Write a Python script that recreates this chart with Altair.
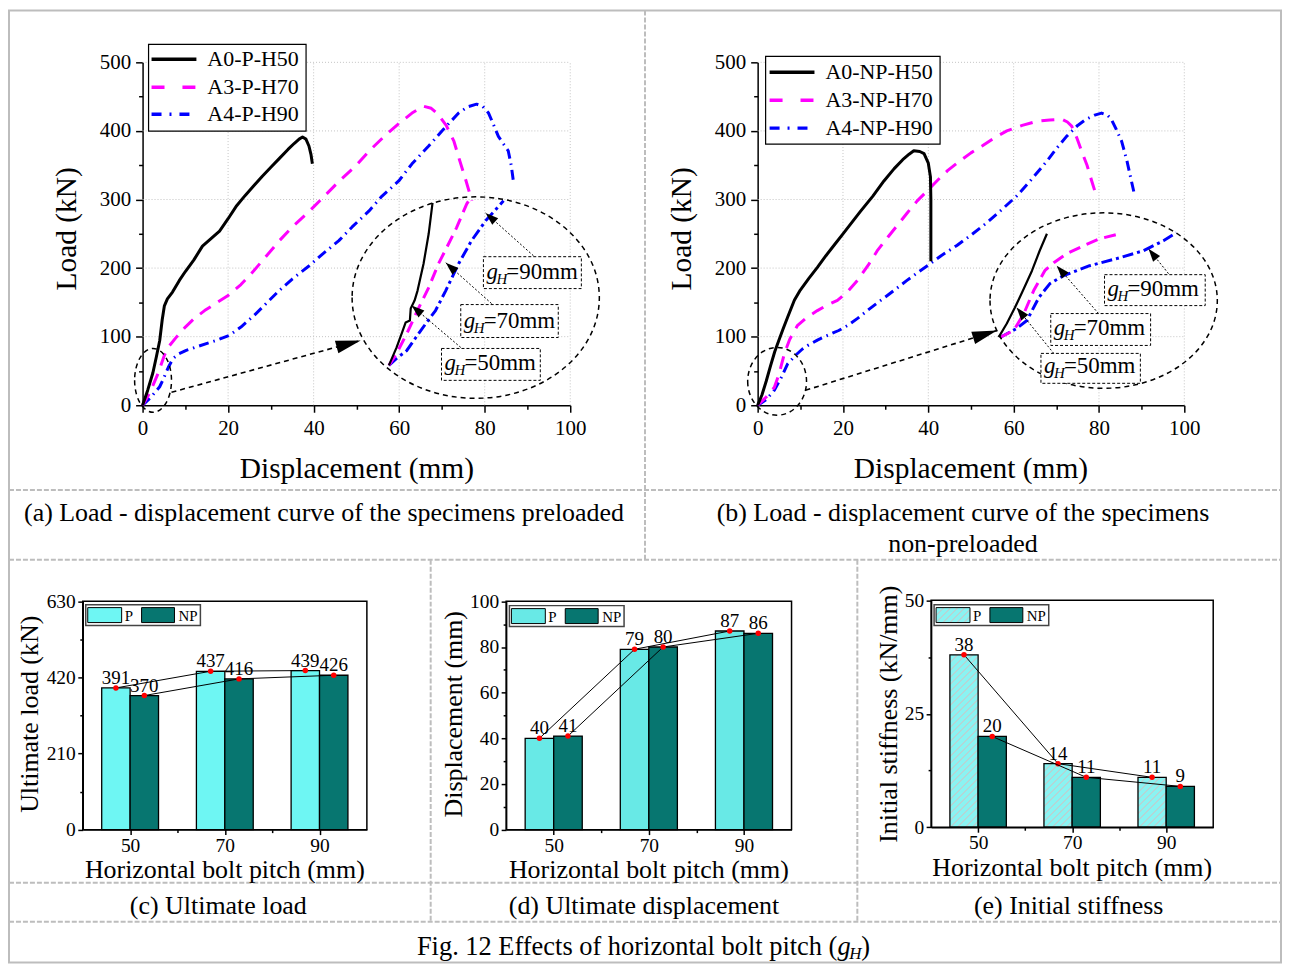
import math
import altair as alt
import pandas as pd

FONT = "Liberation Serif"
W, H = 1278, 957      # whole canvas (page minus the 8px body margin)
OFF = 8

# ------------------------------------------------------------------ data
# (a) preloaded specimens: displacement (mm) / load (kN)
a_h50_x = [0, 1.2, 2.4, 3.2, 4.0, 4.6, 5.1, 5.8, 7, 8.6, 10, 12, 14, 16, 18, 20, 22, 24, 26, 28, 30, 32, 34, 35.5, 36.6, 37.4, 38.2, 38.9, 39.4, 39.7]
a_h50_y = [0, 22, 47, 70, 94, 125, 145, 155, 165, 182, 195, 212, 232, 243, 254, 272, 291, 306, 320, 334, 347, 360, 373, 382, 388, 391, 388, 378, 365, 352]
a_h70_x = [0, 1.6, 3.6, 5.1, 6.3, 8, 10, 12, 14.5, 17, 20, 23, 26, 29, 32, 35, 39, 43, 46, 50, 53, 56.5, 60, 63, 65.7, 67.5, 69, 71, 72.8, 74, 75.5, 77]
a_h70_y = [0, 17, 46, 73, 87, 100, 114, 126, 138, 148, 160, 176, 196, 218, 240, 260, 283, 308, 327, 350, 371, 392, 411, 426, 436, 433, 425, 408, 385, 360, 330, 298]
a_h90_x = [0, 2, 4, 4.7, 6, 7.1, 8.5, 10.2, 13, 17, 20.3, 23, 26.1, 29, 31.9, 35, 38.9, 42, 45.9, 49, 52.9, 56, 59.9, 63, 66.9, 70, 73.9, 76, 78.1, 79.5, 80.9, 82, 83.2, 84.5, 85.5, 86.2, 86.7]
a_h90_y = [0, 12, 27, 36, 55, 68, 75, 80, 86, 94, 102, 114, 131, 149, 167, 184, 203, 220, 240, 260, 283, 305, 327, 352, 378, 400, 426, 435, 439, 436, 426, 410, 392, 380, 371, 350, 327]

# (b) non-preloaded specimens
b_h50_x = [0, 1, 2, 3, 4, 5, 6, 7, 8.6, 10, 12, 14, 16, 18, 20, 22, 24, 27, 29.6, 32, 34, 35.5, 36.6, 38, 39, 40, 40.5, 40.6, 40.6]
b_h50_y = [0, 15, 35, 57, 78, 95, 112, 128, 153, 168, 185, 201, 218, 234, 250, 266, 282, 305, 327, 345, 358, 366, 371, 370, 367, 353, 333, 300, 210]
b_h70_x = [0, 2, 3.9, 5, 6.3, 7.5, 9.3, 11.5, 14, 16, 18.7, 21, 23.4, 26, 28, 30.5, 32.7, 35, 37.4, 40, 42, 44.5, 46.7, 50, 52.6, 55.5, 58.4, 62, 65.4, 68.5, 71.3, 72.6, 73.6, 74.8, 75.9, 77.2, 78.3, 79.4]
b_h70_y = [0, 12, 26, 45, 76, 96, 116, 128, 138, 145, 153, 165, 182, 205, 225, 245, 262, 280, 298, 314, 327, 342, 353, 368, 378, 390, 400, 408, 414, 416, 417, 413, 407, 390, 371, 350, 327, 305]
b_h90_x = [0, 2, 3.9, 5.5, 7, 8.9, 10.5, 11.7, 14, 16.4, 19, 21, 23.5, 25.7, 28, 30.4, 32.7, 35, 37.4, 39.7, 43, 46.7, 50, 53.7, 57, 60.7, 64, 67.8, 70, 72.4, 75, 77, 79, 80.6, 82, 82.9, 84, 85.3, 86.5, 87.6, 88.4]
b_h90_y = [0, 8, 22, 40, 60, 73, 82, 87, 95, 102, 109, 116, 127, 138, 149, 160, 171, 182, 193, 203, 218, 233, 248, 266, 284, 305, 328, 356, 374, 392, 408, 417, 423, 426, 423, 417, 403, 385, 358, 327, 305]

# magnified insets, read in the main-axis units of each panel
a_in50_x = [57.6, 59.4, 60.6, 61.5, 62.5, 62.7, 63.6, 64.3, 65.7, 66.9, 67.8]
a_in50_y = [58.1, 84.3, 104.7, 120.6, 123.5, 141.0, 152.6, 167.2, 206.4, 250.0, 295.1]
a_in70_x = [57.6, 59.4, 61.8, 64.6, 66.9, 69.2, 71.1, 73.4, 75.8, 76.7]
a_in70_y = [58.1, 75.6, 104.7, 142.4, 171.5, 206.4, 229.7, 258.7, 293.6, 302.3]
a_in90_x = [57.6, 59.4, 61.8, 63.9, 66.4, 68.5, 70.9, 73.9, 76.9, 80.2, 84.4]
a_in90_y = [58.1, 68.3, 79.9, 98.8, 120.6, 138.1, 167.2, 206.4, 239.8, 268.9, 298.0]
b_in50_x = [56.5, 58.4, 60.3, 62.4, 64.3, 66.1, 67.8]
b_in50_y = [99.3, 119.2, 142.4, 170.1, 196.2, 225.3, 250.0]
b_in70_x = [56.8, 60.0, 62.4, 64.7, 67.3, 69.4, 72.4, 76.4, 80.1, 84.8]
b_in70_y = [98.8, 109.0, 133.7, 167.2, 196.2, 207.8, 220.9, 232.6, 242.7, 250.0]
b_in90_x = [56.8, 60.7, 63.1, 65.9, 68.5, 71.7, 77.8, 84.1, 90.4, 95.1, 98.1]
b_in90_y = [98.8, 111.9, 123.5, 157.0, 177.3, 189.0, 203.5, 213.7, 225.3, 239.8, 251.5]

# bar charts
pitch = [50, 70, 90]
ult_P = [391, 437, 439]
ult_NP = [370, 416, 426]
disp_P = [40, 79, 87]
disp_NP = [41, 80, 86]
stiff_P = [38, 14, 11]
stiff_NP = [20, 11, 9]

# annotation anchors (data units of their panel)
a_ell = [(77.9, 157.0), (2.45, 36.3)]
b_ell = [(81.1, 152.6), (4.56, 34.9)]
a_arrows = [(6.76, 18.9, 51.0, 94.5), (91.4, 218.0, 80.2, 280.5), (81.6, 148.3, 70.9, 207.8), (74.4, 84.3, 62.9, 145.3)]
b_arrows = [(11.2, 21.8, 56.1, 109.0), (96.3, 191.9, 91.6, 228.2), (79.9, 133.7, 70.1, 203.5), (69.4, 75.6, 60.7, 142.4)]
a_boxes = [(79.7, 102.6, 170.1, 216.6, "=90mm"), (74.4, 97.2, 98.8, 146.8, "=70mm"), (69.9, 93.0, 36.3, 82.8, "=50mm")]
b_boxes = [(81.3, 104.9, 145.3, 190.4, "=90mm"), (68.7, 92.1, 87.2, 133.7, "=70mm"), (66.4, 89.7, 32.0, 75.6, "=50mm")]

# ------------------------------------------------------------------ helpers
def c(v):
    return v - OFF

PAN = {
    'a': dict(xd=[0, 100], xr=[c(143), c(572)], yd=[0, 500], yr=[c(405), c(61)]),
    'b': dict(xd=[0, 100], xr=[c(760), c(1188)], yd=[0, 500], yr=[c(405), c(61)]),
    'c': dict(xd=[40, 100], xr=[c(83), c(368)], yd=[0, 630], yr=[c(830.7), c(601.7)]),
    'd': dict(xd=[40, 100], xr=[c(507.7), c(794)], yd=[0, 100], yr=[c(830.7), c(601.7)]),
    'e': dict(xd=[40, 100], xr=[c(934), c(1217)], yd=[0, 50], yr=[c(828.3), c(600.7)]),
}


def sx(p):
    return (p['xr'][1] - p['xr'][0]) / (p['xd'][1] - p['xd'][0])


def sy(p):
    return (p['yr'][1] - p['yr'][0]) / (p['yd'][1] - p['yd'][0])


def X(f, p, axis=None):
    return alt.X(f, type='quantitative', axis=axis,
                 scale=alt.Scale(domain=p['xd'], range=p['xr'], nice=False, zero=False))


def Y(f, p, axis=None):
    return alt.Y(f, type='quantitative', axis=axis,
                 scale=alt.Scale(domain=p['yd'], range=p['yr'], nice=False, zero=False))


ONE = pd.DataFrame({'k': [0]})
L = []


def vrule(x0, y0, x1, y1, color='black', sw=1.0, dash=None):
    kw = dict(color=color, strokeWidth=sw)
    if dash:
        kw['strokeDash'] = dash
    return alt.Chart(ONE).mark_rule(**kw).encode(
        x=alt.value(x0), y=alt.value(y0), x2=alt.value(x1), y2=alt.value(y1))


def vrect(x0, y0, x1, y1, fill='white', fop=1.0, stroke='black', sw=1.0):
    return alt.Chart(ONE).mark_rect(fill=fill, fillOpacity=fop, stroke=stroke, strokeWidth=sw).encode(
        x=alt.value(x0), y=alt.value(y0), x2=alt.value(x1), y2=alt.value(y1))


def txt(s, x, y, size, align='center', baseline='alphabetic', angle=0, italic=False):
    kw = dict(text=s, font=FONT, fontSize=size, align=align, baseline=baseline, color='black')
    if angle:
        kw['angle'] = angle
    if italic:
        kw['fontStyle'] = 'italic'
    return alt.Chart(ONE).mark_text(**kw).encode(x=alt.value(x), y=alt.value(y))


def dtxt(p, s, xv, yv, size, dx=0, dy=0, align='left', italic=False):
    df = pd.DataFrame({'x': [xv], 'y': [yv]})
    kw = dict(text=s, font=FONT, fontSize=size, align=align, baseline='alphabetic',
              dx=dx, dy=dy, color='black')
    if italic:
        kw['fontStyle'] = 'italic'
    return alt.Chart(df).mark_text(**kw).encode(x=X('x', p), y=Y('y', p))


def curve(p, xs, ys, color, width, dash=None):
    df = pd.DataFrame({'x': xs, 'y': ys, 'i': list(range(len(xs)))})
    kw = dict(color=color, strokeWidth=width, strokeJoin='round')
    if dash:
        kw['strokeDash'] = dash
    return alt.Chart(df).mark_line(**kw).encode(
        x=X('x', p), y=Y('y', p), order=alt.Order('i', type='quantitative'))


def ellipse(p, xv, yv, rx, ry):
    m = max(rx, ry)
    a, b = rx / m, ry / m
    path = f"M{-a:.3f},0A{a:.3f},{b:.3f} 0 1,0 {a:.3f},0A{a:.3f},{b:.3f} 0 1,0 {-a:.3f},0Z"
    df = pd.DataFrame({'x': [xv], 'y': [yv]})
    return alt.Chart(df).mark_point(shape=path, size=(2 * m) ** 2, filled=False, color='black',
                                    opacity=1, strokeWidth=1.5, strokeDash=[5, 4]).encode(
        x=X('x', p), y=Y('y', p))


def arrow(p, x1, y1, x2, y2, hlen, hwid, dash, sw):
    df = pd.DataFrame({'x1': [x1], 'y1': [y1], 'x2': [x2], 'y2': [y2]})
    ang = math.degrees(math.atan2((y2 - y1) * sy(p), (x2 - x1) * sx(p))) % 360
    r = hwid / 2 / hlen
    line = alt.Chart(df).mark_rule(color='black', strokeWidth=sw, strokeDash=dash).encode(
        x=X('x1', p), y=Y('y1', p), x2='x2', y2='y2')
    head = alt.Chart(df).mark_point(shape=f"M0,0L-1,{-r:.3f}L-1,{r:.3f}Z", size=(2 * hlen) ** 2,
                                    angle=ang, filled=True, color='black', opacity=1).encode(
        x=X('x2', p), y=Y('y2', p))
    return [line, head]


def axes(p, xmaj, ymaj, xmin, ymin, fs, tmaj, tmin, pad):
    df = pd.DataFrame({'x': [p['xd'][0]], 'y': [p['yd'][0]]})
    boff = p['yr'][0] - H
    loff = -p['xr'][0]
    com = dict(grid=False, title=None, labelFont=FONT, labelFontSize=fs, labelColor='black',
               tickColor='black', domainColor='black', tickWidth=1.5, domainWidth=1.5,
               labelFlush=False, labelOverlap=False, format='d', tickSize=tmaj)
    major = alt.Chart(df).mark_point(opacity=0).encode(
        x=X('x', p, alt.Axis(orient='bottom', offset=boff, values=xmaj, labelPadding=pad[0], **com)),
        y=Y('y', p, alt.Axis(orient='left', offset=loff, values=ymaj, labelPadding=pad[1], **com)))
    mcom = dict(grid=False, title=None, labels=False, domain=False, tickColor='black',
                tickWidth=1.5, tickSize=tmin)
    minor = alt.Chart(df).mark_point(opacity=0).encode(
        x=X('x', p, alt.Axis(orient='bottom', offset=boff, values=xmin, **mcom)),
        y=Y('y', p, alt.Axis(orient='left', offset=loff, values=ymin, **mcom)))
    return [major, minor]


def gridlines(p, xt, yt):
    dv = pd.DataFrame({'v': xt, 'lo': p['yd'][0], 'hi': p['yd'][1]})
    dh = pd.DataFrame({'v': yt, 'lo': p['xd'][0], 'hi': p['xd'][1]})
    g1 = alt.Chart(dv).mark_rule(color='#c4c4c4', strokeWidth=1, strokeDash=[1, 2]).encode(
        x=X('v', p), y=Y('lo', p), y2='hi')
    g2 = alt.Chart(dh).mark_rule(color='#c4c4c4', strokeWidth=1, strokeDash=[1, 2]).encode(
        y=Y('v', p), x=X('lo', p), x2='hi')
    return [g1, g2]


def hatch(wpx, hpx, bg='#8af3f2', fg='#b3d6d6', period=5.0, lw=1.4):
    k = (wpx + hpx) / (wpx ** 2 + hpx ** 2)
    n = max(1, int(round((wpx + hpx) / math.sqrt(2) / period)))
    stops = []
    for i in range(n):
        a0 = i / n
        a1 = (i + lw / period) / n
        a2 = (i + 1) / n
        stops += [{'offset': round(a0, 5), 'color': fg}, {'offset': round(a1, 5), 'color': fg},
                  {'offset': round(a1, 5), 'color': bg}, {'offset': round(a2, 5), 'color': bg}]
    return {'gradient': 'linear', 'x1': 0, 'y1': 0, 'x2': round(wpx * k, 5),
            'y2': round(hpx * k, 5), 'stops': stops}


# ------------------------------------------------------------------ table frame
TC = '#bdbdbd'
TD = [5, 2]
L.append(vrect(1, 1, 1277, 956, fill='white', fop=0, stroke=TC, sw=2))
L.append(vrule(c(647), 1, c(647), c(560), TC, 2, TD))
for yy in (490, 560, 884, 923):
    L.append(vrule(1, c(yy), 1277, c(yy), TC, 2, TD))
for xx in (432, 860):
    L.append(vrule(c(xx), c(560), c(xx), c(923), TC, 2, TD))

# ------------------------------------------------------------------ panels (a) and (b)
MAG = '#ff00ff'
BLU = '#0000ff'
DASH_M = [13, 9]
DASH_B = [10, 5, 1.5, 5]


def line_panel(key, series, insets, ells, arrows_, boxes, names, legbox, legx, legy):
    p = PAN[key]
    out = []
    out += gridlines(p, [20, 40, 60, 80, 100], [100, 200, 300, 400, 500])
    (x50, y50), (x70, y70), (x90, y90) = series
    out.append(curve(p, x90, y90, BLU, 3, DASH_B))
    out.append(curve(p, x70, y70, MAG, 3, DASH_M))
    out.append(curve(p, x50, y50, 'black', 3))
    (i50x, i50y), (i70x, i70y), (i90x, i90y) = insets
    out.append(curve(p, i90x, i90y, BLU, 3, [11, 4, 3, 4]))
    out.append(curve(p, i70x, i70y, MAG, 3, [12, 7]))
    out.append(curve(p, i50x, i50y, 'black', 2.2))
    out.append(ellipse(p, ells[0][0], ells[0][1], *ELL_R[key][0]))
    out.append(ellipse(p, ells[1][0], ells[1][1], *ELL_R[key][1]))
    out += arrow(p, *arrows_[0], hlen=25, hwid=13, dash=[5, 4], sw=1.6)
    for a in arrows_[1:]:
        out += arrow(p, *a, hlen=13, hwid=9, dash=[2, 2], sw=1)
    for (x0, x1, y0, y1, s) in boxes:
        df = pd.DataFrame({'x0': [x0], 'x1': [x1], 'y0': [y0], 'y1': [y1]})
        out.append(alt.Chart(df).mark_rect(fill='white', stroke='black', strokeWidth=1,
                                           strokeDash=[3, 2]).encode(
            x=X('x0', p), x2='x1', y=Y('y0', p), y2='y1'))
        out.append(dtxt(p, 'g', x0, y0, 23, dx=3, dy=-10, italic=True))
        out.append(dtxt(p, 'H', x0, y0, 15, dx=13, dy=-5, italic=True))
        out.append(dtxt(p, s, x0, y0, 23, dx=23, dy=-10))
    # legend
    bx0, by0, bx1, by1 = legbox
    out.append(vrect(bx0, by0, bx1, by1, fill='white', stroke='black', sw=1.2))
    lx0, lx1 = legx
    out.append(vrule(lx0, legy[0], lx1, legy[0], 'black', 3.5))
    out.append(vrule(lx0, legy[1], lx1, legy[1], MAG, 3.5, [13, 18]))
    out.append(vrule(lx0, legy[2], lx1, legy[2], BLU, 3.5, [10, 8, 2, 8]))
    for nm, yy in zip(names, legy):
        out.append(txt(nm, lx1 + 11, yy, 22, align='left', baseline='middle'))
    out += axes(p, [0, 20, 40, 60, 80, 100], [0, 100, 200, 300, 400, 500],
                [10, 30, 50, 70, 90], [50, 150, 250, 350, 450], 21, 7, 4, (5, 5))
    return out


ELL_R = {'a': [(124, 101), (18.5, 32)], 'b': [(114, 88), (29.5, 34)]}

L += line_panel('a', [(a_h50_x, a_h50_y), (a_h70_x, a_h70_y), (a_h90_x, a_h90_y)],
                [(a_in50_x, a_in50_y), (a_in70_x, a_in70_y), (a_in90_x, a_in90_y)],
                a_ell, a_arrows, a_boxes, ['A0-P-H50', 'A3-P-H70', 'A4-P-H90'],
                (c(149), c(43), c(307), c(130)), (c(152), c(197)), [c(58), c(86), c(113)])
L += line_panel('b', [(b_h50_x, b_h50_y), (b_h70_x, b_h70_y), (b_h90_x, b_h90_y)],
                [(b_in50_x, b_in50_y), (b_in70_x, b_in70_y), (b_in90_x, b_in90_y)],
                b_ell, b_arrows, b_boxes, ['A0-NP-H50', 'A3-NP-H70', 'A4-NP-H90'],
                (c(768), c(55), c(943), c(143)), (c(772), c(817)), [c(71), c(99), c(127)])

# axis titles (a), (b)
L.append(txt('Displacement (mm)', c(358), c(478), 29.5))
L.append(txt('Load (kN)', c(76), c(228), 29.5, angle=270))
L.append(txt('Displacement (mm)', c(974), c(478), 29.5))
L.append(txt('Load (kN)', c(693), c(228), 29.5, angle=270))

# ------------------------------------------------------------------ bar panels
NP_C = '#077670'


def bar_panel(key, vP, vN, fillP, ymaj, ymin, ytitle, ytx, legbox, xt_base, hatched=False):
    p = PAN[key]
    out = []
    dP = pd.DataFrame({'c': pitch, 'v': vP})
    dN = pd.DataFrame({'c': pitch, 'v': vN})
    if hatched:
        for cat, v in zip(pitch, vP):
            g = hatch(6 * sx(p), abs(v * sy(p)))
            out.append(alt.Chart(dP).transform_filter(f"datum.c == {cat}").transform_calculate(
                x0='datum.c - 6', x1='datum.c', z='0').mark_rect(
                fill=g, stroke='black', strokeWidth=1.3).encode(
                x=X('x0', p), x2='x1', y=Y('v', p), y2='z'))
    else:
        out.append(alt.Chart(dP).transform_calculate(x0='datum.c - 6', x1='datum.c', z='0').mark_rect(
            fill=fillP, stroke='black', strokeWidth=1.3).encode(x=X('x0', p), x2='x1', y=Y('v', p), y2='z'))
    out.append(alt.Chart(dN).transform_calculate(x0='datum.c', x1='datum.c + 6', z='0').mark_rect(
        fill=NP_C, stroke='black', strokeWidth=1.3).encode(x=X('x0', p), x2='x1', y=Y('v', p), y2='z'))
    # frame
    fr = pd.DataFrame({'x0': [p['xd'][0]], 'x1': [p['xd'][1]], 'y0': [p['yd'][0]], 'y1': [p['yd'][1]]})
    out.append(alt.Chart(fr).mark_rect(fill='white', fillOpacity=0, stroke='black', strokeWidth=1.5).encode(
        x=X('x0', p), x2='x1', y=Y('y0', p), y2='y1'))
    for df, sh in ((dP, '-'), (dN, '+')):
        base = alt.Chart(df).transform_calculate(m=f'datum.c {sh} 3')
        out.append(base.mark_line(color='black', strokeWidth=1).encode(x=X('m', p), y=Y('v', p)))
        out.append(base.mark_point(filled=True, color='#ff0000', size=30, opacity=1).encode(
            x=X('m', p), y=Y('v', p)))
        out.append(base.mark_text(font=FONT, fontSize=19, dy=-4, baseline='alphabetic', color='black').encode(
            x=X('m', p), y=Y('v', p), text='v:Q'))
    out += axes(p, [50, 70, 90], ymaj, [60, 80], ymin, 19.5, 5, 3, (1.5, 2.5))
    # legend
    bx0, by0 = legbox
    out.append(vrect(c(bx0), c(by0), c(bx0 + 115), c(by0 + 21), fill='white', stroke='#444444', sw=1.5))
    if hatched:
        out.append(alt.Chart(ONE).mark_rect(fill=hatch(34, 15), stroke='black', strokeWidth=1).encode(
            x=alt.value(c(bx0 + 2)), x2=alt.value(c(bx0 + 36)), y=alt.value(c(by0 + 3)), y2=alt.value(c(by0 + 18))))
    else:
        out.append(vrect(c(bx0 + 2), c(by0 + 3), c(bx0 + 36), c(by0 + 18), fill=fillP, stroke='black', sw=1))
    out.append(txt('P', c(bx0 + 39), c(by0 + 16), 15, align='left'))
    out.append(vrect(c(bx0 + 56), c(by0 + 3), c(bx0 + 89), c(by0 + 18), fill=NP_C, stroke='black', sw=1))
    out.append(txt('NP', c(bx0 + 93), c(by0 + 16), 15, align='left'))
    # titles
    xc = (p['xr'][0] + p['xr'][1]) / 2
    out.append(txt('Horizontal bolt pitch (mm)', xc, c(xt_base), 26))
    out.append(txt(ytitle, ytx, c(715), 26, angle=270))
    return out


L += bar_panel('c', ult_P, ult_NP, '#6ef6f3', [0, 210, 420, 630], [105, 315, 525],
               'Ultimate load (kN)', c(38), (86, 605), 879)
L += bar_panel('d', disp_P, disp_NP, '#68e9e6', [0, 20, 40, 60, 80, 100], [10, 30, 50, 70, 90],
               'Displacement (mm)', c(463), (511, 606), 879)
L += bar_panel('e', stiff_P, stiff_NP, '#8af3f2', [0, 25, 50], [12.5, 37.5],
               'Initial stiffness (kN/mm)', c(900), (937, 605), 877, hatched=True)

# ------------------------------------------------------------------ captions
L.append(txt('(a) Load - displacement curve of the specimens preloaded', c(325), c(521), 26))
L.append(txt('(b) Load - displacement curve of the specimens', c(966), c(521), 26))
L.append(txt('non-preloaded', c(966), c(552), 26))
L.append(txt('(c) Ultimate load', c(219), c(915), 26))
L.append(txt('(d) Ultimate displacement', c(646), c(915), 26))
L.append(txt('(e) Initial stiffness', c(1072), c(915), 26))
L.append(txt('Fig. 12 Effects of horizontal bolt pitch (', c(840), c(956), 26.5, align='right'))
L.append(txt('g', c(840), c(956), 26.5, align='left', italic=True))
L.append(txt('H', c(852), c(960), 17, align='left', italic=True))
L.append(txt(')', c(864), c(956), 26.5, align='left'))

chart = alt.layer(*L).resolve_scale(x='independent', y='independent').properties(
    width=W, height=H, padding=0, autosize=alt.AutoSizeParams(type='none')
).configure_view(stroke=None)

chart.save("out.html", embed_options={"renderer": "svg", "actions": False})
